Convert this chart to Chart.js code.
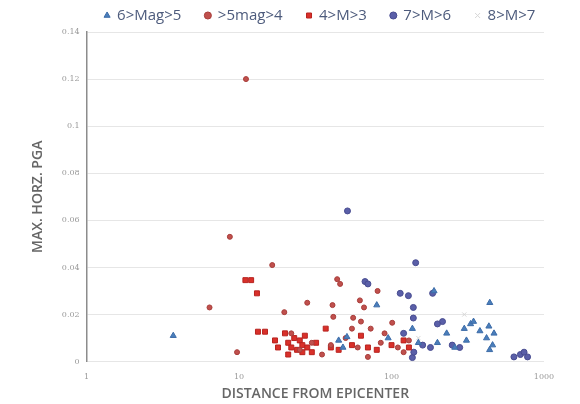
<!DOCTYPE html>
<html>
<head>
<meta charset="utf-8">
<script src="https://cdn.jsdelivr.net/npm/chart.js@4/dist/chart.umd.min.js"></script>
<style>
  html, body { margin: 0; padding: 0; background: #fff; }
  #wrap { width: 580px; height: 404px; }
</style>
</head>
<body>
<div id="wrap"><canvas id="chart"></canvas></div>
<script>
// 图例名称
const seriesNames = ['6>Mag>5', '>5mag>4', '4>M>3', '7>M>6', '8>M>7'];

// 距离 / PGA 数据
const mag5Dist = [3.7, 45, 48, 51, 80, 95, 137, 150, 190, 200, 230, 260, 300, 310, 330, 345, 380, 420, 435, 440, 441, 460, 470];
const mag5Pga  = [0.011, 0.009, 0.006, 0.0105, 0.024, 0.010, 0.014, 0.008, 0.030, 0.008, 0.012, 0.006, 0.014, 0.009, 0.016, 0.017, 0.013, 0.010, 0.015, 0.005, 0.025, 0.007, 0.012];

const mag4Dist = [11.1, 8.7, 16.5, 6.4, 19.8, 9.7, 44, 46, 28, 81, 41, 41.5, 56, 63, 55, 73, 101, 70, 60, 40, 90, 110, 120, 130, 30, 22, 25, 35, 50, 85, 66, 62];
const mag4Pga  = [0.120, 0.053, 0.041, 0.023, 0.021, 0.004, 0.035, 0.033, 0.025, 0.030, 0.024, 0.019, 0.0186, 0.017, 0.014, 0.014, 0.0165, 0.002, 0.006, 0.007, 0.012, 0.006, 0.004, 0.009, 0.008, 0.012, 0.005, 0.003, 0.010, 0.008, 0.023, 0.026];

const mag3Dist = [11, 12, 13.1, 13.3, 14.8, 17.2, 18, 20, 21, 21, 22, 23, 24, 25, 26, 26, 27, 28, 30, 32, 37, 40, 45, 55, 63, 70, 80, 100, 120, 130];
const mag3Pga  = [0.0346, 0.0346, 0.029, 0.0127, 0.0127, 0.009, 0.006, 0.012, 0.008, 0.003, 0.006, 0.010, 0.005, 0.009, 0.007, 0.004, 0.011, 0.006, 0.004, 0.008, 0.014, 0.006, 0.005, 0.007, 0.011, 0.006, 0.005, 0.007, 0.009, 0.006];

const mag6Dist = [51.4, 67, 70, 114, 129, 144, 186, 139, 139, 216, 137, 140, 160, 250, 280, 635, 700, 740, 780, 120, 180, 200];
const mag6Pga  = [0.064, 0.034, 0.033, 0.029, 0.028, 0.042, 0.029, 0.023, 0.0185, 0.017, 0.0017, 0.004, 0.007, 0.007, 0.006, 0.002, 0.003, 0.004, 0.002, 0.012, 0.006, 0.016];

const mag7Dist = [150, 300];
const mag7Pga  = [0.010, 0.020];

// 坐标轴刻度
const xTicks = [1, 10, 100, 1000];

function toPoints(xs, ys) {
    return xs.map(function(x, i) { return { x: x, y: ys[i] }; });
}

// 图例位置微调：压缩占用高度、整体右移上移
const legendTweak = {
    id: 'legendTweak',
    afterInit: function(chart) {
        const legend = chart.legend;
        const fit = legend.fit;
        legend.fit = function() {
            fit.call(this);
            this.height -= 17;
        };
    },
    afterLayout: function(chart) {
        const l = chart.legend;
        l.left += 33;
        l.right += 33;
        l.top -= 16;
    }
};

document.addEventListener('DOMContentLoaded', function() {
    const canvas = document.getElementById('chart');

    new Chart(canvas, {
        type: 'scatter',
        data: {
            datasets: [{
                label: seriesNames[0],
                data: toPoints(mag5Dist, mag5Pga),
                pointStyle: 'triangle',
                radius: 3.5,
                backgroundColor: '#4a7ebb',
                borderColor: '#3d6ca8',
                borderWidth: 1
            }, {
                label: seriesNames[1],
                data: toPoints(mag4Dist, mag4Pga),
                pointStyle: 'circle',
                radius: 2.5,
                backgroundColor: '#c0504d',
                borderColor: '#a83d3a',
                borderWidth: 1
            }, {
                label: seriesNames[2],
                data: toPoints(mag3Dist, mag3Pga),
                pointStyle: 'rect',
                radius: 3.5,
                backgroundColor: '#d9302a',
                borderColor: '#b8231f',
                borderWidth: 1
            }, {
                label: seriesNames[3],
                data: toPoints(mag6Dist, mag6Pga),
                pointStyle: 'circle',
                radius: 3,
                backgroundColor: '#5a5fa8',
                borderColor: '#484c90',
                borderWidth: 1
            }, {
                label: seriesNames[4],
                data: toPoints(mag7Dist, mag7Pga),
                pointStyle: 'crossRot',
                radius: 3,
                backgroundColor: '#dcdcdc',
                borderColor: '#d6d6d6',
                borderWidth: 1
            }]
        },
        options: {
            responsive: true,
            maintainAspectRatio: false,
            animation: false,
            layout: {
                padding: { left: 30, right: 36, top: 0, bottom: 2 }
            },
            plugins: {
                legend: {
                    position: 'top',
                    align: 'center',
                    labels: {
                        usePointStyle: true,
                        boxWidth: 5,
                        boxHeight: 5,
                        padding: 24,
                        color: '#4d5b7c',
                        font: { family: 'Open Sans', size: 15 }
                    }
                },
                tooltip: { enabled: false }
            },
            scales: {
                x: {
                    type: 'logarithmic',
                    min: 1,
                    max: 1000,
                    afterBuildTicks: function(axis) {
                        axis.ticks = xTicks.map(function(v) { return { value: v }; });
                    },
                    ticks: {
                        color: '#9a9a9a',
                        font: { family: 'DejaVu Serif', size: 8 },
                        maxRotation: 0,
                        callback: function(value) { return String(value); }
                    },
                    grid: { display: false },
                    border: { display: false },
                    title: {
                        display: true,
                        text: 'DISTANCE FROM EPICENTER',
                        color: '#666',
                        font: { family: 'Open Sans', size: 14, weight: '600' },
                        padding: { top: 0, bottom: 0 }
                    }
                },
                y: {
                    min: 0,
                    max: 0.14,
                    ticks: {
                        stepSize: 0.02,
                        color: '#9a9a9a',
                        font: { family: 'DejaVu Serif', size: 8 },
                        padding: 7,
                        callback: function(value) { return String(Math.round(value * 100) / 100); }
                    },
                    grid: {
                        color: '#e6e6e6',
                        drawTicks: false
                    },
                    border: { display: true, color: '#8c8c8c', width: 1.5 },
                    title: {
                        display: true,
                        text: 'MAX. HORZ. PGA',
                        color: '#666',
                        font: { family: 'Open Sans', size: 14, weight: '600' },
                        padding: { top: 0, bottom: 8 }
                    }
                }
            }
        },
        plugins: [legendTweak]
    });
});
</script>
</body>
</html>
